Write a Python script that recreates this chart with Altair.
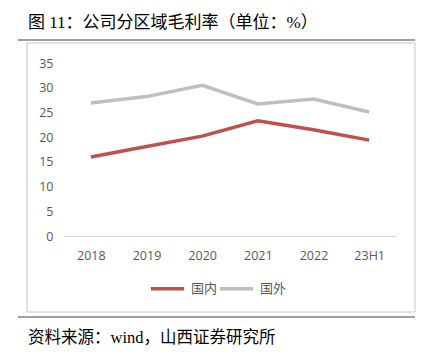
import altair as alt
import pandas as pd

years = ["2018", "2019", "2020", "2021", "2022", "23H1"]
domestic = [16.0, 18.1, 20.2, 23.3, 21.5, 19.4]
overseas = [26.9, 28.2, 30.5, 26.7, 27.7, 25.1]
series_names = ["国内", "国外"]
colors = ["#C0504D", "#BFBFBF"]

rows = []
for y, v in zip(years, domestic):
    rows.append({"year": y, "value": v, "series": series_names[0]})
for y, v in zip(years, overseas):
    rows.append({"year": y, "value": v, "series": series_names[1]})
df = pd.DataFrame(rows)

W, H = 334, 173
L, T = 63, 63

one = pd.DataFrame({"a": [0]})


def hrule(x1, x2, y, color, sw):
    return alt.Chart(one).mark_rule(color=color, strokeWidth=sw).encode(
        x=alt.value(x1 - L), x2=alt.value(x2 - L), y=alt.value(y - T)
    )


def vrule(x, y1, y2, color, sw):
    return alt.Chart(one).mark_rule(color=color, strokeWidth=sw).encode(
        x=alt.value(x - L), y=alt.value(y1 - T), y2=alt.value(y2 - T)
    )


box_col = "#D9D9D9"
box = [
    hrule(27, 415, 43, box_col, 1.5),
    hrule(27, 415, 312, box_col, 1.5),
    vrule(27, 43, 312, box_col, 1.5),
    vrule(415, 43, 312, box_col, 1.5),
]

top_rule = hrule(18, 415, 40, "#404040", 1)
bottom_rule = hrule(18, 415, 317, "#404040", 1)

title = alt.Chart(one).mark_text(
    text="图 11：公司分区域毛利率（单位：%）", align="left", baseline="alphabetic",
    fontSize=17, font="Liberation Serif, Noto Sans CJK SC", color="#000000"
).encode(x=alt.value(28 - L), y=alt.value(28 - T))

footer = alt.Chart(one).mark_text(
    text="资料来源：wind，山西证券研究所", align="left", baseline="alphabetic",
    fontSize=16.5, font="Liberation Serif, Noto Sans CJK SC", color="#000000"
).encode(x=alt.value(28 - L), y=alt.value(343 - T))

lines = alt.Chart(df).mark_line(strokeWidth=3.5).encode(
    x=alt.X("year:N", sort=years, title=None,
            scale=alt.Scale(paddingInner=0, paddingOuter=0),
            axis=alt.Axis(labelAngle=0, ticks=False, domainColor="#D9D9D9", domainWidth=1.2,
                          labelColor="#595959", labelFontSize=12.5, labelFont="Open Sans",
                          labelPadding=13, grid=False, zindex=1)),
    y=alt.Y("value:Q", title=None,
            scale=alt.Scale(domain=[0, 35], nice=False),
            axis=alt.Axis(values=[0, 5, 10, 15, 20, 25, 30, 35], ticks=False, domain=False, grid=False,
                          labelColor="#595959", labelFontSize=12.5, labelFont="Open Sans",
                          labelPadding=10, zindex=1)),
    color=alt.Color("series:N", sort=series_names,
                    scale=alt.Scale(domain=series_names, range=colors),
                    legend=alt.Legend(title=None, orient="none", legendX=86, legendY=207,
                                      direction="horizontal", symbolType="stroke",
                                      symbolStrokeWidth=3.5, symbolSize=1100,
                                      labelFontSize=13, labelColor="#595959",
                                      labelFont="Noto Sans CJK SC", labelOffset=5,
                                      columnPadding=-9)),
)

chart = alt.layer(*box, top_rule, bottom_rule, title, footer, lines).properties(
    width=W, height=H,
    background="white",
    autosize=alt.AutoSizeParams(type="none"),
    padding={"left": L, "top": T, "right": 433 - L - W, "bottom": 353 - T - H},
).configure_view(strokeWidth=0, strokeOpacity=0)

chart.save("out.html", embed_options={"renderer": "svg", "actions": False})
